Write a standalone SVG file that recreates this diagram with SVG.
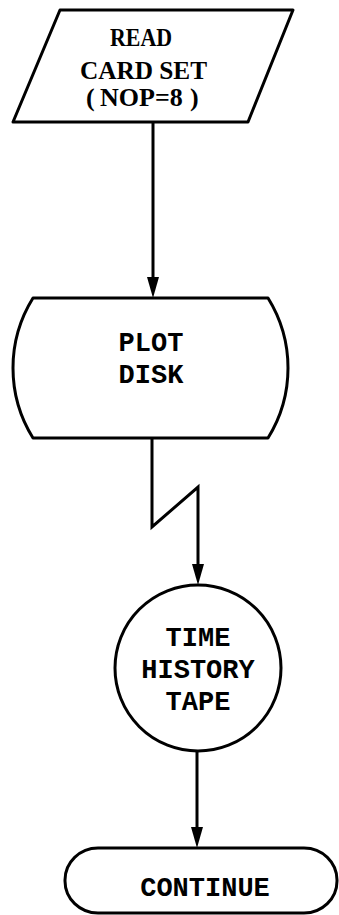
<svg xmlns="http://www.w3.org/2000/svg" width="339" height="915" viewBox="0 0 339 915">
<style>
.shape{fill:#fff;stroke:#000;stroke-width:3;stroke-linejoin:round}
.conn{fill:none;stroke:#000;stroke-width:3}
.head{fill:#000}
.serif{font-family:"Liberation Serif","Times New Roman",serif;font-weight:bold;font-size:26px;fill:#000;text-anchor:start}
.mono{font-family:"Liberation Mono","Courier New",monospace;font-weight:bold;font-size:27px;fill:#000;text-anchor:middle}
</style>
<rect width="339" height="915" fill="#fff"/>
<g id="connectors">
<path class="conn" d="M153,122 L153,280"/>
<path class="conn" d="M152,438 L152,527 L198,487 L198,566"/>
<path class="conn" d="M197,752 L197,830"/>
<path class="head" d="M147,277 L159,277 L153,298 z"/>
<path class="head" d="M192,564 L204,564 L198,585 z"/>
<path class="head" d="M191,827 L203,827 L197,848 z"/>
</g>
<g id="read-card-set">
<path class="shape" d="M60,10 L293,10 L248,122 L13,122 z"/>
<text class="serif" x="110" y="46" textLength="62" lengthAdjust="spacingAndGlyphs">READ</text>
<text class="serif" x="80" y="79" textLength="127" lengthAdjust="spacingAndGlyphs">CARD SET</text>
<text class="serif" x="86" y="106">(</text>
<text class="serif" x="100" y="106">NOP=8</text>
<text class="serif" x="190" y="106">)</text>
</g>
<g id="plot-disk">
<path class="shape" d="M33,298 L268,298 A132.5,132.5 0 0 1 268,438 L33,438 A132.5,132.5 0 0 1 33,298 z"/>
<text class="mono" x="151" y="351">PLOT</text>
<text class="mono" x="151" y="383">DISK</text>
</g>
<g id="time-history-tape">
<circle class="shape" cx="198" cy="668" r="83"/>
<text class="mono" x="198" y="646">TIME</text>
<text class="mono" x="198" y="678">HISTORY</text>
<text class="mono" x="198" y="710">TAPE</text>
</g>
<g id="continue">
<rect class="shape" x="65" y="848" width="272" height="65" rx="33" ry="32"/>
<text class="mono" x="205" y="896">CONTINUE</text>
</g>
</svg>
